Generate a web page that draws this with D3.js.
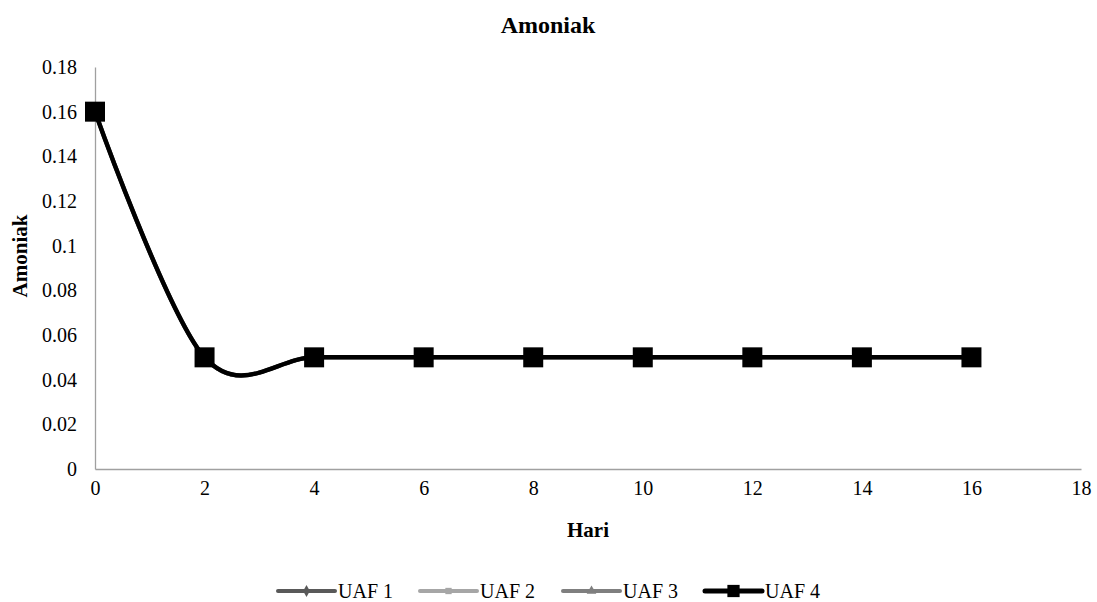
<!DOCTYPE html>
<html>
<head>
<meta charset="utf-8">
<script src="https://cdn.jsdelivr.net/npm/d3@7"></script>
<style>
  body { margin: 0; background: #fff; }
  svg text { fill: #000; }
</style>
</head>
<body>
<div id="chart"></div>
<script>
// data
var days = [0, 2, 4, 6, 8, 10, 12, 14, 16];
var uaf1 = [0.16, 0.05, 0.05, 0.05, 0.05, 0.05, 0.05, 0.05, 0.05];
var uaf2 = [0.16, 0.05, 0.05, 0.05, 0.05, 0.05, 0.05, 0.05, 0.05];
var uaf3 = [0.16, 0.05, 0.05, 0.05, 0.05, 0.05, 0.05, 0.05, 0.05];
var uaf4 = [0.16, 0.05, 0.05, 0.05, 0.05, 0.05, 0.05, 0.05, 0.05];
var seriesNames = ["UAF 1", "UAF 2", "UAF 3", "UAF 4"];
var xTicks = [0, 2, 4, 6, 8, 10, 12, 14, 16, 18];
var yTicks = [0, 0.02, 0.04, 0.06, 0.08, 0.1, 0.12, 0.14, 0.16, 0.18];

var width = 1097, height = 602;
var serif = "'Liberation Serif', 'DejaVu Serif', serif";

var svg = d3.select("#chart").append("svg")
    .attr("width", width)
    .attr("height", height);

var xScale = d3.scaleLinear().domain([0, 18]).range([95, 1081]);
var yScale = d3.scaleLinear().domain([0, 0.18]).range([469, 67]);

// axes
var xAxis = d3.axisBottom(xScale).tickValues(xTicks).tickSize(0).tickPadding(12).tickFormat(d3.format("d"));
var gx = svg.append("g")
    .attr("transform", "translate(0," + yScale(0) + ")")
    .call(xAxis);
gx.attr("font-family", null);
gx.select(".domain").attr("stroke", "#a0a0a0").attr("stroke-width", 1.3);
gx.selectAll("text").style("font-family", serif).style("font-size", "20px");

var yAxis = d3.axisLeft(yScale).tickValues(yTicks).tickSize(0).tickPadding(18).tickFormat(d => d === 0 ? "0" : String(+d.toFixed(2)));
var gy = svg.append("g")
    .attr("transform", "translate(" + xScale(0) + ",0)")
    .call(yAxis);
gy.attr("font-family", null);
gy.select(".domain").attr("stroke", "#a0a0a0").attr("stroke-width", 1.3);
gy.selectAll("text").style("font-family", serif).style("font-size", "20px");

// titles
svg.append("text")
    .attr("x", 548).attr("y", 33)
    .attr("text-anchor", "middle")
    .style("font-family", serif).style("font-size", "24px").style("font-weight", "bold")
    .text("Amoniak");

svg.append("text")
    .attr("x", xScale(9)).attr("y", 537)
    .attr("text-anchor", "middle")
    .style("font-family", serif).style("font-size", "21px").style("font-weight", "bold")
    .text("Hari");

svg.append("text")
    .attr("transform", "translate(27," + 256 + ") rotate(-90)")
    .attr("text-anchor", "middle")
    .style("font-family", serif).style("font-size", "21px").style("font-weight", "bold")
    .text("Amoniak");

// series
var series = [
    { name: seriesNames[0], values: uaf1, color: "#595959", width: 4, symbol: d3.symbolDiamond, size: 40 },
    { name: seriesNames[1], values: uaf2, color: "#a6a6a6", width: 4, symbol: d3.symbolSquare, size: 40 },
    { name: seriesNames[2], values: uaf3, color: "#7f7f7f", width: 4, symbol: d3.symbolTriangle, size: 40 },
    { name: seriesNames[3], values: uaf4, color: "#000000", width: 4.5, symbol: d3.symbolSquare, size: 400 }
];

var line = d3.line()
    .x(d => xScale(d[0]))
    .y(d => yScale(d[1]))
    .curve(d3.curveCardinal.tension(0));

series.forEach(function (s) {
    var pts = days.map((d, i) => [d, s.values[i]]);
    var g = svg.append("g");
    g.append("path")
        .datum(pts)
        .attr("d", line)
        .attr("fill", "none")
        .attr("stroke", s.color)
        .attr("stroke-width", s.width)
        .attr("stroke-linejoin", "round");
    g.selectAll("path.mk")
        .data(pts)
        .enter()
        .append("path")
        .attr("class", "mk")
        .attr("transform", d => "translate(" + xScale(d[0]) + "," + yScale(d[1]) + ")")
        .attr("d", d3.symbol().type(s.symbol).size(s.size))
        .attr("fill", s.color);
});

// legend
var legendX = [278, 420, 563, 705];
var legendY = 591;
series.forEach(function (s, i) {
    var lg = svg.append("g").attr("transform", "translate(" + legendX[i] + "," + legendY + ")");
    lg.append("line")
        .attr("x1", 0).attr("x2", 57)
        .attr("y1", 0).attr("y2", 0)
        .attr("stroke", s.color)
        .attr("stroke-width", i === 3 ? 5 : 4)
        .attr("stroke-linecap", "round");
    lg.append("path")
        .attr("transform", "translate(28.5,0)")
        .attr("d", d3.symbol().type(s.symbol).size(i === 3 ? 150 : 40))
        .attr("fill", s.color);
    lg.append("text")
        .attr("x", 60).attr("y", 7)
        .style("font-family", serif).style("font-size", "20px")
        .text(s.name);
});
</script>
</body>
</html>
